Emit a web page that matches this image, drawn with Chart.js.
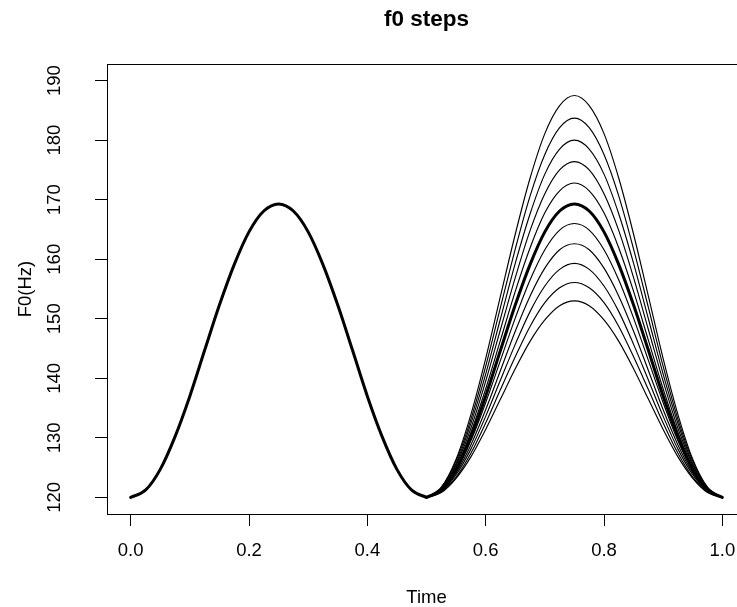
<!DOCTYPE html>
<html>
<head>
<meta charset="utf-8">
<title>f0 steps</title>
<script src="https://cdn.jsdelivr.net/npm/chart.js@4.4.1/dist/chart.umd.min.js"></script>
<style>
   html, body { margin: 0; padding: 0; background: #fff; overflow: hidden; }
   #view { width: 737px; height: 607px; overflow: hidden; }
   #wrap { width: 760px; height: 607px; }
</style>
</head>
<body>
<div id="view"><div id="wrap"><canvas id="f0Chart" width="760" height="607"></canvas></div></div>
<script>
// time axis samples (s, normalised)
const timeFirst = [0.0, 0.025, 0.05, 0.075, 0.1, 0.125, 0.15, 0.175, 0.2, 0.225, 0.25,
   0.275, 0.3, 0.325, 0.35, 0.375, 0.4, 0.425, 0.45, 0.475, 0.5];
const timeSecond = [0.5, 0.525, 0.55, 0.575, 0.6, 0.625, 0.65, 0.675, 0.7, 0.725, 0.75,
   0.775, 0.8, 0.825, 0.85, 0.875, 0.9, 0.925, 0.95, 0.975, 1.0];

// first accent, shared by every step
const firstAccent = [120.0, 121.2, 124.7, 130.2, 137.0, 144.7, 152.3, 159.1, 164.6, 168.1, 169.3,
   168.1, 164.6, 159.1, 152.3, 144.7, 137.0, 130.2, 124.7, 121.2, 120.0];

// second accent, one contour per step (index 5 is the reference step)
const stepContours = [
   [120.0, 120.8, 123.2, 126.8, 131.4, 136.5, 141.6, 146.2, 149.8, 152.2, 153.0, 152.2, 149.8, 146.2, 141.6, 136.5, 131.4, 126.8, 123.2, 120.8, 120.0],
   [120.0, 120.9, 123.4, 127.4, 132.5, 138.1, 143.6, 148.7, 152.7, 155.2, 156.1, 155.2, 152.7, 148.7, 143.6, 138.1, 132.5, 127.4, 123.4, 120.9, 120.0],
   [120.0, 121.0, 123.8, 128.1, 133.6, 139.7, 145.7, 151.2, 155.5, 158.3, 159.3, 158.3, 155.5, 151.2, 145.7, 139.7, 133.6, 128.1, 123.8, 121.0, 120.0],
   [120.0, 121.0, 124.1, 128.8, 134.7, 141.3, 147.9, 153.8, 158.5, 161.6, 162.6, 161.6, 158.5, 153.8, 147.9, 141.3, 134.7, 128.8, 124.1, 121.0, 120.0],
   [120.0, 121.1, 124.4, 129.5, 135.9, 143.0, 150.1, 156.5, 161.6, 164.9, 166.0, 164.9, 161.6, 156.5, 150.1, 143.0, 135.9, 129.5, 124.4, 121.1, 120.0],
   [120.0, 121.2, 124.7, 130.2, 137.0, 144.7, 152.3, 159.1, 164.6, 168.1, 169.3, 168.1, 164.6, 159.1, 152.3, 144.7, 137.0, 130.2, 124.7, 121.2, 120.0],
   [120.0, 121.3, 125.0, 130.9, 138.2, 146.4, 154.6, 161.9, 167.8, 171.5, 172.8, 171.5, 167.8, 161.9, 154.6, 146.4, 138.2, 130.9, 125.0, 121.3, 120.0],
   [120.0, 121.4, 125.4, 131.6, 139.5, 148.2, 156.9, 164.8, 171.0, 175.0, 176.4, 175.0, 171.0, 164.8, 156.9, 148.2, 139.5, 131.6, 125.4, 121.4, 120.0],
   [120.0, 121.5, 125.7, 132.4, 140.7, 150.0, 159.3, 167.6, 174.3, 178.5, 180.0, 178.5, 174.3, 167.6, 159.3, 150.0, 140.7, 132.4, 125.7, 121.5, 120.0],
   [120.0, 121.6, 126.1, 133.1, 142.0, 151.9, 161.7, 170.6, 177.6, 182.1, 183.7, 182.1, 177.6, 170.6, 161.7, 151.9, 142.0, 133.1, 126.1, 121.6, 120.0],
   [120.0, 121.7, 126.4, 133.9, 143.3, 153.8, 164.2, 173.6, 181.1, 185.8, 187.5, 185.8, 181.1, 173.6, 164.2, 153.8, 143.3, 133.9, 126.4, 121.7, 120.0]
];
const referenceStep = 5;

const timeTicks = [0.0, 0.2, 0.4, 0.6, 0.8, 1.0];
const f0Ticks = [120, 130, 140, 150, 160, 170, 180, 190];

Chart.defaults.font.family = "'Liberation Sans', Arial, Helvetica, sans-serif";
Chart.defaults.color = "#000";

function toPoints(xs, ys) {
   return xs.map((x, i) => ({ x: x, y: ys[i] }));
}

const datasets = [{
   data: toPoints(timeFirst, firstAccent),
   borderColor: "#000",
   borderWidth: 3,
}];
stepContours.forEach((contour, i) => {
   datasets.push({
      data: toPoints(timeSecond, contour),
      borderColor: "#000",
      borderWidth: i === referenceStep ? 3 : 1.15,
   });
});

// box around the plot region plus the main title
const framePlugin = {
   id: "frame",
   afterDraw(chart) {
      const { ctx, chartArea } = chart;
      ctx.save();
      ctx.strokeStyle = "#000";
      ctx.lineWidth = 1;
      ctx.strokeRect(chartArea.left + 0.5, chartArea.top + 0.5,
         chartArea.right - chartArea.left, chartArea.bottom - chartArea.top);
      ctx.fillStyle = "#000";
      ctx.font = "bold 22.5px 'Liberation Sans', Arial, sans-serif";
      ctx.textAlign = "center";
      ctx.textBaseline = "middle";
      ctx.fillText("f0 steps", (chartArea.left + chartArea.right) / 2, 20);
      ctx.restore();
   },
};

// keep the plot region fixed, labels may hang past it
function noEdgePadding(scale) {
   scale.paddingLeft = 0;
   scale.paddingRight = 0;
   scale.paddingTop = 0;
   scale.paddingBottom = 0;
}

new Chart(document.getElementById("f0Chart"), {
   type: "line",
   data: { datasets: datasets },
   plugins: [framePlugin],
   options: {
      responsive: false,
      animation: false,
      layout: { padding: { top: 64, right: 14, bottom: 0, left: 0 } },
      elements: {
         point: { radius: 0 },
         line: { cubicInterpolationMode: "monotone", borderCapStyle: "round", borderJoinStyle: "round" },
      },
      plugins: {
         legend: { display: false },
         tooltip: { enabled: false },
         title: { display: false },
      },
      scales: {
         x: {
            type: "linear",
            min: -0.04,
            max: 1.04,
            afterBuildTicks: (scale) => { scale.ticks = timeTicks.map((v) => ({ value: v })); },
            afterFit: (scale) => { scale.height = 93; noEdgePadding(scale); },
            grid: { drawOnChartArea: false, drawTicks: true, tickLength: 12, tickColor: "#000", tickWidth: 1 },
            border: { display: true, color: "#000", width: 1 },
            ticks: {
               padding: 14,
               font: { size: 18.5 },
               callback: (v) => v.toFixed(1),
            },
            title: {
               display: true,
               text: "Time",
               font: { size: 18.5, lineHeight: 1 },
               padding: { top: 0, bottom: 0 },
            },
         },
         y: {
            type: "linear",
            min: 117.2,
            max: 192.8,
            afterBuildTicks: (scale) => { scale.ticks = f0Ticks.map((v) => ({ value: v })); },
            afterFit: (scale) => { scale.width = 107; noEdgePadding(scale); },
            grid: { drawOnChartArea: false, drawTicks: true, tickLength: 12, tickColor: "#000", tickWidth: 1 },
            border: { display: true, color: "#000", width: 1 },
            ticks: {
               minRotation: 90,
               maxRotation: 90,
               crossAlign: "center",
               padding: 25,
               font: { size: 18.5 },
            },
            title: {
               display: true,
               text: "F0(Hz)",
               font: { size: 18.5, lineHeight: 1.2 },
               padding: { top: 15, bottom: 0 },
            },
         },
      },
   },
});
</script>
</body>
</html>
